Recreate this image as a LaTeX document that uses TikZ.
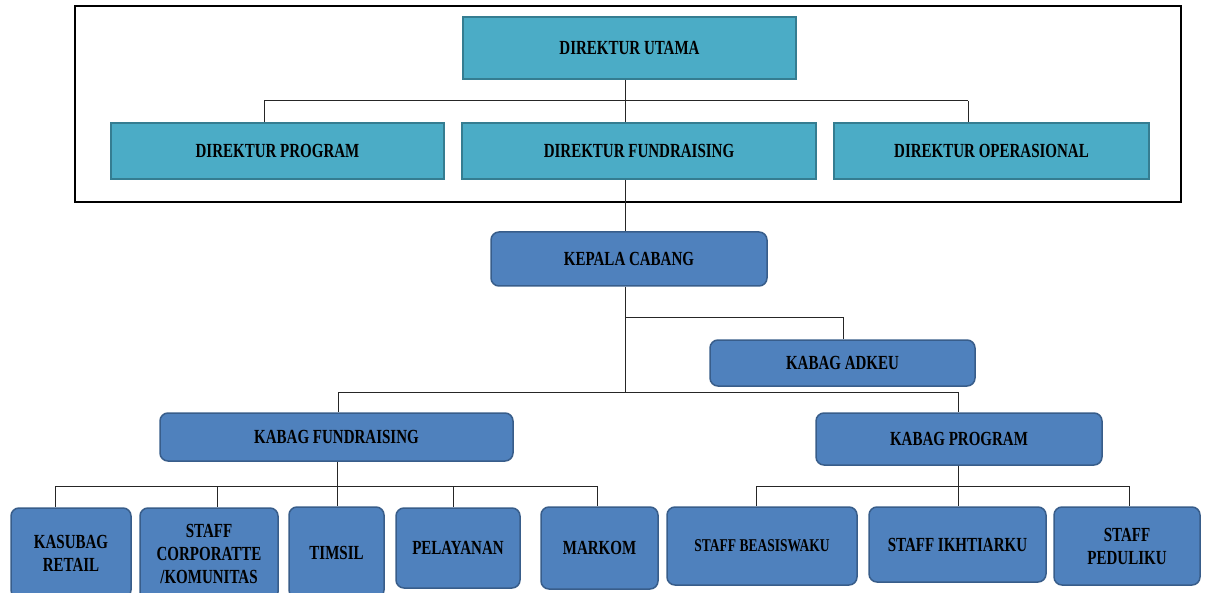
\documentclass[tikz,border=0pt]{standalone}
\usepackage{fontspec}
\setmainfont{Liberation Serif}[FakeStretch=0.75]
\definecolor{teal}{HTML}{4BACC6}
\definecolor{tealedge}{HTML}{357D91}
\definecolor{blu}{HTML}{4F81BD}
\definecolor{bluedge}{HTML}{385D8A}
\tikzset{
  lbl/.style={font=\fontsize{20}{23}\selectfont\bfseries, align=center, inner sep=0pt},
  topbox/.style={lbl, rectangle, fill=teal, draw=tealedge, line width=1.5pt},
  lowbox/.style={lbl, rectangle, rounded corners=8pt, fill=blu, draw=bluedge, line width=1.5pt},
  conn/.style={draw=black!85, line width=1pt},
  frm/.style={draw=black, line width=2pt}
}
\newcommand{\bx}[7]{\node[#1, minimum width=#4, minimum height=#5] (#2) at (#3) {#6};}
\begin{document}
\begin{tikzpicture}[x=1pt,y=-1pt]
\useasboundingbox (0,0) rectangle (1206,593);
\clip (0,0) rectangle (1206,593);
\draw[frm] (75,6) rectangle (1181,202);
% top boxes
\bx{topbox}{du}{629.5,48}{333pt}{62pt}{DIREKTUR UTAMA}{}
\bx{topbox}{dp}{277.5,151}{333pt}{56pt}{DIREKTUR PROGRAM}{}
\bx{topbox}{df}{639,151}{354pt}{56pt}{DIREKTUR FUNDRAISING}{}
\bx{topbox}{do}{991.5,151}{315pt}{56pt}{DIREKTUR OPERASIONAL}{}
% lower boxes
\bx{lowbox}{kc}{629,259}{276pt}{54pt}{KEPALA CABANG}{}
\bx{lowbox}{ka}{842.5,363}{265pt}{46pt}{KABAG ADKEU}{}
\bx{lowbox}{kf}{336.5,437}{353pt}{48pt}{KABAG FUNDRAISING}{}
\bx{lowbox}{kp}{959,439}{286pt}{52pt}{KABAG PROGRAM}{}
\bx{lowbox}{ks}{71,553}{120pt}{90pt}{KASUBAG\\RETAIL}{}
\bx{lowbox}{sc}{209,554}{138pt}{92pt}{STAFF\\CORPORATTE\\/KOMUNITAS}{}
\bx{lowbox}{ti}{336.5,552.5}{95pt}{91pt}{TIMSIL}{}
\bx{lowbox}{pe}{458,548}{124pt}{80pt}{PELAYANAN}{}
\bx{lowbox}{mk}{599.5,548}{117pt}{82pt}{MARKOM}{}
\bx{lowbox}{sb}{762,546}{190pt}{78pt}{\fontsize{18}{21}\selectfont STAFF BEASISWAKU}{}
\bx{lowbox}{si}{957.5,544.5}{177pt}{75pt}{STAFF IKHTIARKU}{}
\bx{lowbox}{sp}{1127,546}{146pt}{78pt}{STAFF\\PEDULIKU}{}
% junction coordinates
\coordinate (j1) at (625,101);
\coordinate (j1l) at (264,101);
\coordinate (j1r) at (968,101);
\coordinate (j2) at (625,317);
\coordinate (j2r) at (843,317);
\coordinate (j3) at (625,392);
\coordinate (j3l) at (338,392);
\coordinate (j3r) at (958,392);
\coordinate (j4) at (337,486);
\coordinate (j4l) at (55,486);
\coordinate (j4m1) at (217,486);
\coordinate (j4m2) at (453,486);
\coordinate (j4r) at (597,486);
\coordinate (j5) at (958,486);
\coordinate (j5l) at (756,486);
\coordinate (j5r) at (1129,486);
% connectors
\draw[conn] (du.south -| j1) -- (df.north -| j1);
\draw[conn] (j1l) -- (j1r);
\draw[conn] (j1l) -- (dp.north -| j1l);
\draw[conn] (j1r) -- (do.north -| j1r);
\draw[conn] (df.south -| j1) -- (kc.north -| j1);
\draw[conn] (kc.south -| j1) -- (j3);
\draw[conn] (j2) -- (j2r) -- (ka.north -| j2r);
\draw[conn] (j3l) -- (j3r);
\draw[conn] (j3l) -- (kf.north -| j3l);
\draw[conn] (j3r) -- (kp.north -| j3r);
\draw[conn] (kf.south -| j4) -- (ti.north -| j4);
\draw[conn] (j4l) -- (j4r);
\draw[conn] (j4l) -- (ks.north -| j4l);
\draw[conn] (j4m1) -- (sc.north -| j4m1);
\draw[conn] (j4m2) -- (pe.north -| j4m2);
\draw[conn] (j4r) -- (mk.north -| j4r);
\draw[conn] (kp.south -| j5) -- (si.north -| j5);
\draw[conn] (j5l) -- (j5r);
\draw[conn] (j5l) -- (sb.north -| j5l);
\draw[conn] (j5r) -- (sp.north -| j5r);
\end{tikzpicture}
\end{document}
